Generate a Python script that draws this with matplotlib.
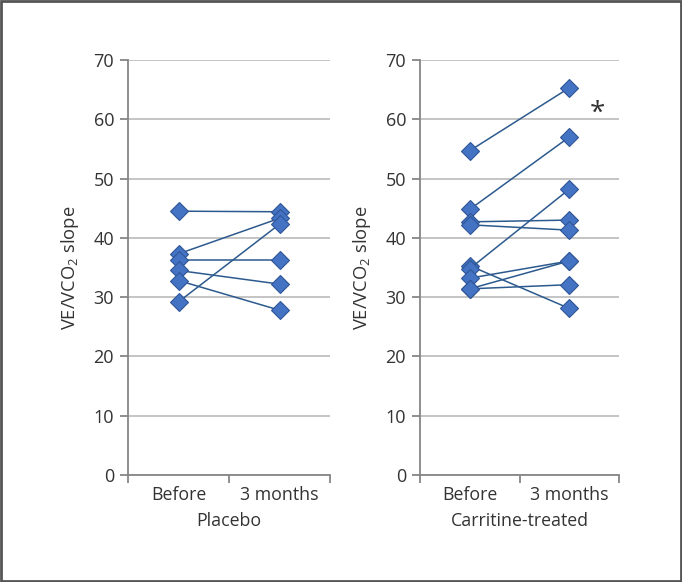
import matplotlib
matplotlib.use("Agg")
import matplotlib.pyplot as plt
from matplotlib.patches import Rectangle

plt.rcParams["font.family"] = ["Open Sans", "DejaVu Sans"]
plt.rcParams["mathtext.fontset"] = "custom"
plt.rcParams["mathtext.rm"] = "Open Sans"

categories = ["Before", "3 months"]

# placebo: one pair per patient
placebo_before = [44.5, 37.3, 36.2, 34.5, 32.8, 29.2]
placebo_after = [44.4, 43.3, 36.2, 32.2, 27.8, 42.3]

# carnitine-treated
treated_before = [54.7, 44.8, 42.7, 42.2, 35.3, 34.8, 33.2, 31.4, 31.4]
treated_after = [65.3, 57.0, 43.0, 41.3, 28.1, 48.2, 36.1, 36.1, 32.1]

groups = ["Placebo", "Carritine-treated"]
star_y = 61

LINE = "#2c5a8e"
FILL = "#4473c3"
EDGE = "#2f5597"
GRID = "#bfbfbf"
AXC = "#868686"
TXT = "#333333"

fig = plt.figure(figsize=(6.82, 5.82), dpi=100)
ax1 = fig.add_axes([128 / 682, 107 / 582, 202 / 682, 415 / 582])
ax2 = fig.add_axes([420 / 682, 107 / 582, 199 / 682, 415 / 582])

for ax, before, after, name in ((ax1, placebo_before, placebo_after, groups[0]),
                                (ax2, treated_before, treated_after, groups[1])):
    for b, a in zip(before, after):
        ax.plot([0, 1], [b, a], color=LINE, lw=1.1, marker="D", ms=9.3,
                mfc=FILL, mec=EDGE, mew=0.8, zorder=3)
    ax.set_xlim(-0.5, 1.5)
    ax.set_ylim(0, 70)
    ax.set_yticks(range(0, 71, 10))
    ax.grid(axis="y", color=GRID, lw=1.3)
    ax.set_axisbelow(True)
    for s in ("top", "right"):
        ax.spines[s].set_visible(False)
    for s in ("left", "bottom"):
        ax.spines[s].set_color(AXC)
        ax.spines[s].set_linewidth(1.3)
    ax.set_xticks([0, 1])
    ax.set_xticklabels(categories)
    ax.set_xticks([-0.5, 0.5, 1.5], minor=True)
    ax.tick_params(axis="x", which="major", length=0, pad=8,
                   labelsize=12.8, labelcolor=TXT)
    ax.tick_params(axis="x", which="minor", length=6, width=1.3, color=AXC)
    ax.tick_params(axis="y", length=6, width=1.3, color=AXC, pad=4,
                   labelsize=13, labelcolor=TXT)
    ax.set_xlabel(name, fontsize=12.8, color=TXT, labelpad=6)
    ax.set_ylabel(r"VE/VCO$\mathrm{_2}$ slope", fontsize=13.2, color=TXT,
                  labelpad=9)

ax2.text(1.28, star_y, "*", fontsize=20, color=TXT, ha="center", va="center")

fig.add_artist(Rectangle((0.002, 0.002), 0.996, 0.996, transform=fig.transFigure,
                         fill=False, edgecolor="#555555", lw=2))

fig.savefig("out.png", dpi=100)
